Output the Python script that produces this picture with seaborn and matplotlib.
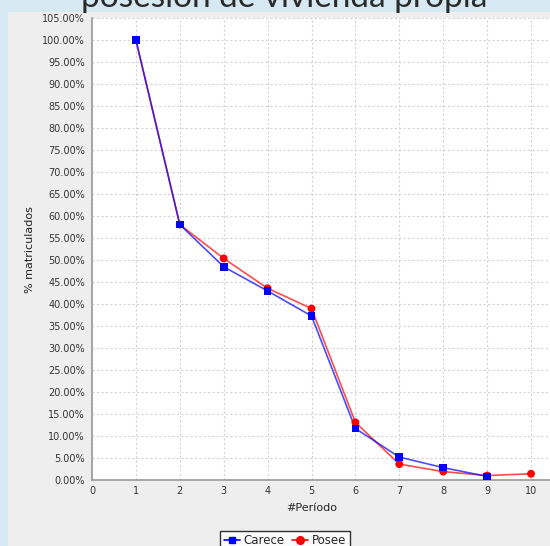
import pandas as pd
import matplotlib.pyplot as plt
import seaborn as sns

# Data
periodos = [1, 2, 3, 4, 5, 6, 7, 8, 9, 10]
carece = [100.0, 58.0, 48.4, 42.9, 37.2, 11.6, 5.1, 2.7, 0.7, None]
posee = [100.0, 58.0, 50.3, 43.5, 38.9, 13.0, 3.5, 1.8, 0.9, 1.3]
y_ticks = list(range(0, 106, 5))
x_ticks = list(range(0, 11))

df = pd.DataFrame({'periodo': periodos, 'Carece': carece, 'Posee': posee})

sns.set_style('white')
plt.rcParams['font.family'] = ['DejaVu Sans']

W, H = 550, 546
fig = plt.figure(figsize=(W / 100, H / 100), dpi=100)
fig.patch.set_facecolor('#d6e9f2')

# gray chart panel
fig.patches.append(plt.Rectangle((8 / W, 0), 1, 1 - 12 / H, transform=fig.transFigure,
                                 facecolor='#eeeeee', edgecolor='none', zorder=-10))

left, right, top, bottom = 92, 550, 17.5, 479.5
ax = fig.add_axes([left / W, 1 - bottom / H, (right - left) / W, (bottom - top) / H])
ax.set_facecolor('white')

sns.lineplot(data=df, x='periodo', y='Posee', ax=ax, color='#ff0000', alpha=0.7, lw=1.2,
             label='Posee', legend=False, zorder=3)
sns.lineplot(data=df.dropna(), x='periodo', y='Carece', ax=ax, color='#0000ff', alpha=0.7, lw=1.2,
             label='Carece', legend=False, zorder=4)
# opaque markers on top
sns.scatterplot(data=df, x='periodo', y='Posee', ax=ax, color='#ff0000', marker='o', s=32,
                edgecolor='none', zorder=5, legend=False)
sns.scatterplot(data=df.dropna(), x='periodo', y='Carece', ax=ax, color='#0000ff', marker='s', s=30,
                edgecolor='none', zorder=6, legend=False)

ax.set_xlim(0, (right - left) / 43.9)
ax.set_ylim(0, 105 + 0.5 / 4.39)
ax.set_xticks(x_ticks)
ax.set_yticks(y_ticks)
ax.set_yticklabels([f'{v:.2f}%' for v in y_ticks])
ax.tick_params(labelsize=7, colors='#333333', length=3, width=0.8, pad=2)
ax.tick_params(axis='both', color='#888888')
ax.grid(True, color='#d4d4d4', lw=0.8, ls=(0, (2, 2)))
for s in ['top', 'right']:
    ax.spines[s].set_visible(False)
for s in ['left', 'bottom']:
    ax.spines[s].set_color('#999999')
    ax.spines[s].set_linewidth(1.2)

ax.set_xlabel('')
ax.set_ylabel('')
fig.text(30 / W, 1 - 250 / H, '% matriculados', rotation=90, ha='center', va='center',
         fontsize=8, color='#222222')
fig.text(312 / W, 1 - 508 / H, '#Período', ha='center', va='center', fontsize=8, color='#222222')

handles = [plt.Line2D([], [], color='#0000ff', marker='s', ms=5, lw=1.2),
           plt.Line2D([], [], color='#ff0000', marker='o', ms=5.5, lw=1.2)]
leg = fig.legend(handles, ['Carece', 'Posee'], loc='upper center', bbox_to_anchor=(285 / W, 1 - 525 / H),
                 ncol=2, fontsize=8.5, frameon=True, fancybox=False, edgecolor='#000000',
                 handlelength=1.4, handletextpad=0.3, columnspacing=0.6, borderpad=0.3)
leg.get_frame().set_linewidth(1.0)

fig.text(284 / W, 1 - 7 / H, 'posesión de vivienda propia', ha='center', va='baseline',
         fontsize=24, color='#2a2a2a', family=['Lato', 'DejaVu Sans'])

fig.savefig('out.png', dpi=100, facecolor=fig.get_facecolor())
